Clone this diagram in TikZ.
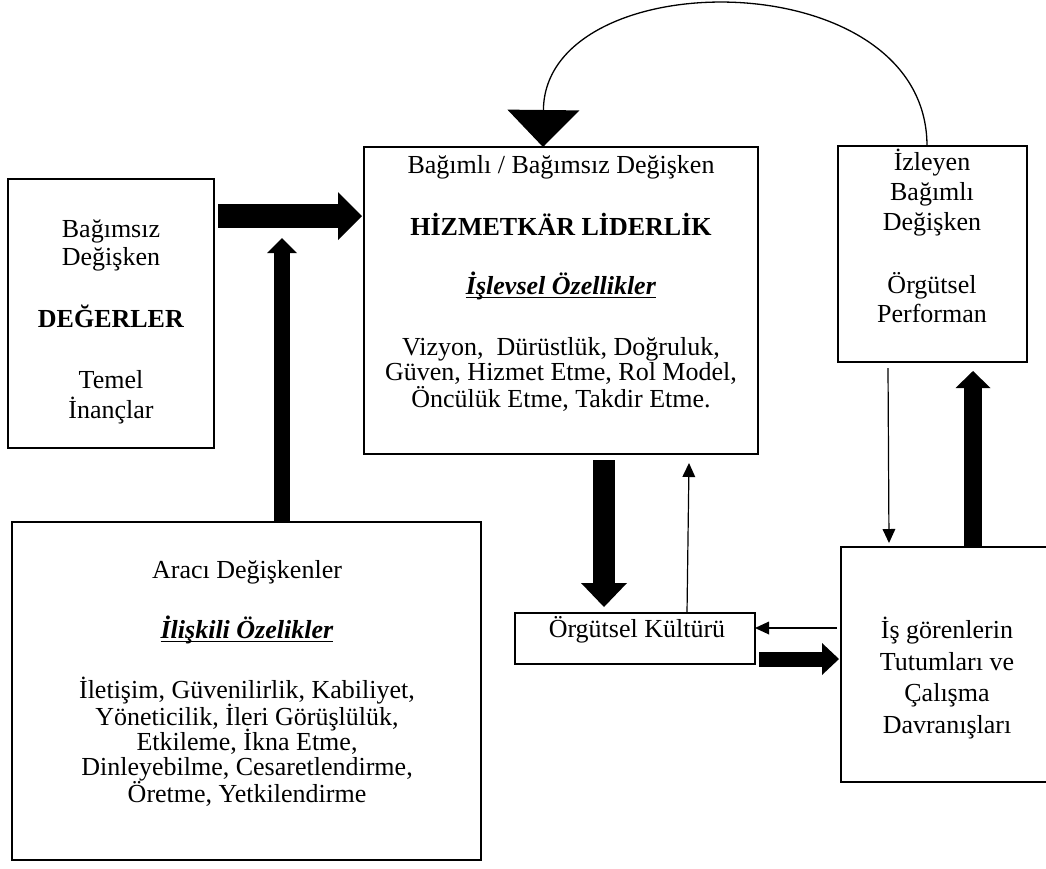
\documentclass[tikz,border=0pt]{standalone}
\usepackage{fontspec}
\setmainfont{Liberation Serif}
\usetikzlibrary{arrows.meta,calc}
\newcommand\undertext[1]{\setbox0\hbox{#1}\rlap{\rule[-4pt]{\wd0}{1.3pt}}\box0}
\begin{document}
\begin{tikzpicture}[x=1pt,y=-1pt,
  box/.style 2 args={draw, line width=1.3pt, minimum width=#1, minimum height=#2,
    anchor=north west, inner sep=0pt, outer sep=0pt},
  txt/.style={anchor=base, inner sep=0pt, font=\fontsize{26}{28}\selectfont},
  fatarr/.style n args={3}{line width=#1,
    -{Triangle[width=#2,length=#3,line width=0pt]}},
  thinarr/.style={line width=1.2pt, -{Triangle[width=13pt,length=14pt,line width=0pt]}},
]
\useasboundingbox (0,0) rectangle (1046,868);

% boxes
\node[box={206pt}{269pt}] (A) at (8,179) {};
\node[box={394pt}{307pt}] (B) at (364,147) {};
\node[box={189pt}{216pt}] (C) at (838,146) {};
\node[box={469pt}{338pt}] (D) at (12,522) {};
\node[box={240pt}{51pt}]  (E) at (515,613) {};
\node[box={212pt}{235pt}] (F) at (841,547) {};

% independent variable
\node[txt] (a1) at (111,237) {Bağımsız};
\node[txt] (a2) at (111,265) {Değişken};
\node[txt] (a3) at (111,327) {\textbf{DEĞERLER}};
\node[txt] (a4) at (111,388) {Temel};
\node[txt] (a5) at (111,418) {İnançlar};

% servant leadership
\node[txt] (b1) at (561,173) {Bağımlı / Bağımsız Değişken};
\node[txt] (b2) at (561,235) {\textbf{HİZMETKÄR LİDERLİK}};
\node[txt] (b3) at (561,294) {\undertext{\textbf{\textit{İşlevsel Özellikler}}}};
\node[txt] (b4) at (561,355) {Vizyon,\ \ Dürüstlük, Doğruluk,};
\node[txt] (b5) at (561,380) {Güven, Hizmet Etme, Rol Model,};
\node[txt] (b6) at (561,407) {Öncülük Etme, Takdir Etme.};

% dependent variable
\node[txt] (c1) at (932,170) {İzleyen};
\node[txt] (c2) at (932,200) {Bağımlı};
\node[txt] (c3) at (932,230) {Değişken};
\node[txt] (c4) at (932,293) {Örgütsel};
\node[txt] (c5) at (932,322) {Performan};

% mediating variables
\node[txt] (d1) at (247,578) {Aracı Değişkenler};
\node[txt] (d2) at (247,638) {\undertext{\textbf{\textit{İlişkili Özelikler}}}};
\node[txt] (d3) at (247,698) {İletişim, Güvenilirlik, Kabiliyet,};
\node[txt] (d4) at (247,725) {Yöneticilik, İleri Görüşlülük,};
\node[txt] (d5) at (247,750) {Etkileme, İkna Etme,};
\node[txt] (d6) at (247,775) {Dinleyebilme, Cesaretlendirme,};
\node[txt] (d7) at (247,802) {Öretme, Yetkilendirme};

% organisational culture
\node[txt] (e1) at (637,637) {Örgütsel Kültürü};

% employees
\node[txt] (f1) at (947,638) {İş görenlerin};
\node[txt] (f2) at (947,670) {Tutumları ve};
\node[txt] (f3) at (947,701) {Çalışma};
\node[txt] (f4) at (947,733) {Davranışları};

% block arrows
\draw[fatarr={24pt}{48pt}{24pt}] ($(A.north east)+(4,37)$) -- ($(B.north west)+(-2,69)$);
\draw[fatarr={16pt}{30pt}{15pt}] ($(D.north west)+(270,0)$) -- ($(D.north west)+(270,-284)$);
\draw[fatarr={22pt}{46pt}{24pt}] ($(B.south west)+(240,6)$) -- ($(E.north west)+(89,-6)$);
\draw[fatarr={15pt}{32pt}{17pt}] ($(E.north east)+(4,46)$) -- ($(F.north west)+(-2,112)$);
\draw[fatarr={18pt}{35pt}{17pt}] ($(F.north west)+(132,0)$) -- ($(C.south west)+(135,9)$);

% thin arrows
\draw[thinarr] ($(E.north west)+(172,0)$) -- ($(B.south west)+(325,9)$);
\draw[thinarr] ($(F.north west)+(-4,81)$) -- ($(E.north east)+(0,15)$);
\draw[thinarr] ($(C.south west)+(50,6)$) -- ($(F.north west)+(48,-4)$);

% feedback loop
\draw[line width=1.3pt, -{Triangle[width=72pt,length=37pt,line width=0pt]}]
  ($(C.north west)+(89,0)$) .. controls ($(C.north west)+(89,-186)$)
  and ($(B.north west)+(181,-186)$) .. ($(B.north west)+(179,0)$);
\end{tikzpicture}
\end{document}
